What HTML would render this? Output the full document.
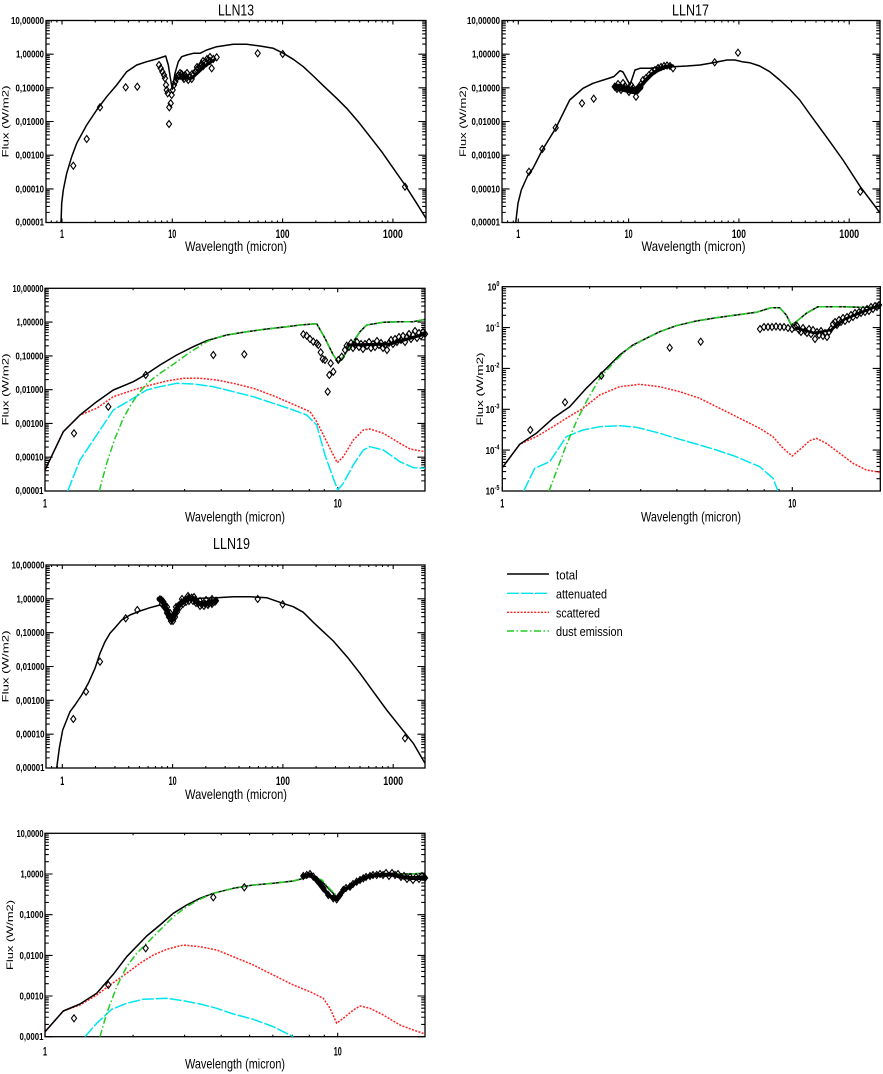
<!DOCTYPE html>
<html><head><meta charset="utf-8"><style>
html,body{margin:0;padding:0;background:#fff;width:883px;height:1074px;overflow:hidden}
svg{display:block}
text{font-family:"Liberation Sans",sans-serif;fill:#000}
</style></head><body>
<svg width="883" height="1074" viewBox="0 0 883 1074" xmlns="http://www.w3.org/2000/svg">
<defs>
<marker id="d" markerWidth="10" markerHeight="10" refX="5" refY="5" markerUnits="userSpaceOnUse" overflow="visible"><path d="M5 1.5 L7.6 5 L5 8.5 L2.4 5Z" fill="none" stroke="#000" stroke-width="1.1"/></marker>
<path id="xb1" d="M0 0v-4M33.2 0v-2M52.6 0v-2M66.4 0v-2M77.1 0v-2M85.8 0v-2M93.2 0v-2M99.6 0v-2M105.2 0v-2"/>
<path id="xt1" d="M0 0v4M33.2 0v2M52.6 0v2M66.4 0v2M77.1 0v2M85.8 0v2M93.2 0v2M99.6 0v2M105.2 0v2"/>
<path id="xb3" d="M0 0v-4M88.1 0v-2M139.6 0v-2M176.2 0v-2M204.6 0v-2M227.8 0v-2M247.4 0v-2M264.3 0v-2M279.3 0v-2M292.7 0v-4"/>
<path id="xt3" d="M0 0v4M88.1 0v2M139.6 0v2M176.2 0v2M204.6 0v2M227.8 0v2M247.4 0v2M264.3 0v2M279.3 0v2M292.7 0v4"/>
<path id="xb4" d="M0 0v-4M87.3 0v-2M138.4 0v-2M174.6 0v-2M202.7 0v-2M225.7 0v-2M245.1 0v-2M261.9 0v-2M276.7 0v-2M290 0v-4"/>
<path id="xt4" d="M0 0v4M87.3 0v2M138.4 0v2M174.6 0v2M202.7 0v2M225.7 0v2M245.1 0v2M261.9 0v2M276.7 0v2M290 0v4"/>
<path id="yl1" d="M0 0h7.6M0-10.13h3.8M0-16.06h3.8M0-20.27h3.8M0-23.53h3.8M0-26.2h3.8M0-28.45h3.8M0-30.4h3.8M0-32.12h3.8"/>
<path id="yr1" d="M0 0h-7.6M0-10.13h-3.8M0-16.06h-3.8M0-20.27h-3.8M0-23.53h-3.8M0-26.2h-3.8M0-28.45h-3.8M0-30.4h-3.8M0-32.12h-3.8"/>
<path id="yl4" d="M0 0h7.6M0-12.28h3.8M0-19.46h3.8M0-24.56h3.8M0-28.52h3.8M0-31.75h3.8M0-34.48h3.8M0-36.84h3.8M0-38.92h3.8"/>
<path id="yr4" d="M0 0h-7.6M0-12.28h-3.8M0-19.46h-3.8M0-24.56h-3.8M0-28.52h-3.8M0-31.75h-3.8M0-34.48h-3.8M0-36.84h-3.8M0-38.92h-3.8"/>
<clipPath id="c1"><rect x="46" y="20.5" width="380" height="202"/></clipPath>
<clipPath id="c2"><rect x="502" y="20.5" width="378" height="202"/></clipPath>
<clipPath id="c3"><rect x="45" y="288.3" width="380" height="202.7"/></clipPath>
<clipPath id="c4"><rect x="502.3" y="286.7" width="378" height="204.3"/></clipPath>
<clipPath id="c5"><rect x="46" y="565" width="379" height="203"/></clipPath>
<clipPath id="c6"><rect x="45" y="833.3" width="380" height="203.4"/></clipPath>
</defs>

<!-- ===== AXES BOXES & TICKS ===== -->
<g fill="none" stroke="#000" stroke-width="1.3">
<rect x="46" y="20.5" width="380" height="202"/>
<rect x="502" y="20.5" width="378" height="202"/>
<rect x="45" y="288.3" width="380" height="202.7"/>
<rect x="502.3" y="286.7" width="378" height="204.3"/>
<rect x="46" y="565" width="379" height="203"/>
<rect x="45" y="833.3" width="380" height="203.4"/>
</g>
<g fill="none" stroke="#000" stroke-width="1.1">
<!-- P1 -->
<use href="#yl1" x="46" y="222.5"/><use href="#yl1" x="46" y="188.9"/><use href="#yl1" x="46" y="155.2"/><use href="#yl1" x="46" y="121.5"/><use href="#yl1" x="46" y="87.8"/><use href="#yl1" x="46" y="54.2"/>
<use href="#yr1" x="426" y="222.5"/><use href="#yr1" x="426" y="188.9"/><use href="#yr1" x="426" y="155.2"/><use href="#yr1" x="426" y="121.5"/><use href="#yr1" x="426" y="87.8"/><use href="#yr1" x="426" y="54.2"/>
<use href="#xb1" x="62" y="222.5"/><use href="#xb1" x="172.3" y="222.5"/><use href="#xb1" x="282.6" y="222.5"/>
<use href="#xt1" x="62" y="20.5"/><use href="#xt1" x="172.3" y="20.5"/><use href="#xt1" x="282.6" y="20.5"/>
<path d="M392.9 222.5v-4M51.3 222.5v-2M56.9 222.5v-2M392.9 20.5v4M51.3 20.5v2M56.9 20.5v2"/>
<!-- P2 -->
<use href="#yl1" x="502" y="222.5"/><use href="#yl1" x="502" y="188.9"/><use href="#yl1" x="502" y="155.2"/><use href="#yl1" x="502" y="121.5"/><use href="#yl1" x="502" y="87.8"/><use href="#yl1" x="502" y="54.2"/>
<use href="#yr1" x="880" y="222.5"/><use href="#yr1" x="880" y="188.9"/><use href="#yr1" x="880" y="155.2"/><use href="#yr1" x="880" y="121.5"/><use href="#yr1" x="880" y="87.8"/><use href="#yr1" x="880" y="54.2"/>
<use href="#xb1" x="518.3" y="222.5"/><use href="#xb1" x="628.6" y="222.5"/><use href="#xb1" x="738.9" y="222.5"/>
<use href="#xt1" x="518.3" y="20.5"/><use href="#xt1" x="628.6" y="20.5"/><use href="#xt1" x="738.9" y="20.5"/>
<path d="M849.2 222.5v-4M507.6 222.5v-2M513.3 222.5v-2M849.2 20.5v4M507.6 20.5v2M513.3 20.5v2"/>
<!-- P3 -->
<use href="#yl1" x="45" y="491"/><use href="#yl1" x="45" y="457.2"/><use href="#yl1" x="45" y="423.4"/><use href="#yl1" x="45" y="389.7"/><use href="#yl1" x="45" y="355.9"/><use href="#yl1" x="45" y="322.1"/>
<use href="#yr1" x="425" y="491"/><use href="#yr1" x="425" y="457.2"/><use href="#yr1" x="425" y="423.4"/><use href="#yr1" x="425" y="389.7"/><use href="#yr1" x="425" y="355.9"/><use href="#yr1" x="425" y="322.1"/>
<use href="#xb3" x="45" y="491"/><use href="#xt3" x="45" y="288.3"/>
<!-- P4 -->
<use href="#yl4" x="502.3" y="491"/><use href="#yl4" x="502.3" y="450.1"/><use href="#yl4" x="502.3" y="409.3"/><use href="#yl4" x="502.3" y="368.4"/><use href="#yl4" x="502.3" y="327.6"/>
<use href="#yr4" x="880.3" y="491"/><use href="#yr4" x="880.3" y="450.1"/><use href="#yr4" x="880.3" y="409.3"/><use href="#yr4" x="880.3" y="368.4"/><use href="#yr4" x="880.3" y="327.6"/>
<use href="#xb4" x="502.3" y="491"/><use href="#xt4" x="502.3" y="286.7"/>
<!-- P5 -->
<use href="#yl1" x="46" y="768"/><use href="#yl1" x="46" y="734.2"/><use href="#yl1" x="46" y="700.3"/><use href="#yl1" x="46" y="666.5"/><use href="#yl1" x="46" y="632.7"/><use href="#yl1" x="46" y="598.8"/>
<use href="#yr1" x="425" y="768"/><use href="#yr1" x="425" y="734.2"/><use href="#yr1" x="425" y="700.3"/><use href="#yr1" x="425" y="666.5"/><use href="#yr1" x="425" y="632.7"/><use href="#yr1" x="425" y="598.8"/>
<use href="#xb1" x="62.3" y="768"/><use href="#xb1" x="172.6" y="768"/><use href="#xb1" x="282.9" y="768"/>
<use href="#xt1" x="62.3" y="565"/><use href="#xt1" x="172.6" y="565"/><use href="#xt1" x="282.9" y="565"/>
<path d="M393.2 768v-4M51.6 768v-2M57.3 768v-2M393.2 565v4M51.6 565v2M57.3 565v2"/>
<!-- P6 -->
<use href="#yl4" x="45" y="1036.7"/><use href="#yl4" x="45" y="996"/><use href="#yl4" x="45" y="955.4"/><use href="#yl4" x="45" y="914.7"/><use href="#yl4" x="45" y="874"/>
<use href="#yr4" x="425" y="1036.7"/><use href="#yr4" x="425" y="996"/><use href="#yr4" x="425" y="955.4"/><use href="#yr4" x="425" y="914.7"/><use href="#yr4" x="425" y="874"/>
<use href="#xb3" x="45" y="1036.7"/><use href="#xt3" x="45" y="833.3"/>
</g>

<!-- ===== CURVES ===== -->
<g fill="none" stroke-width="1.5" stroke-linejoin="round">
<!-- P1 -->
<g clip-path="url(#c1)">
<polyline stroke="#000" points="61,222.7 61.7,203.3 63.3,190 66.7,173.3 71.7,156.7 76.7,143.3 86.7,125 96.7,110 106.7,96.7 116.7,85 126.7,71.7 136.7,65 146.7,61.7 156.7,59 165.7,56 168.3,65 170.7,80 172.3,89.3 175,73.3 178.3,61.7 181.7,56.7 186.7,55 193.3,53.3 200,53.3 206.7,50 216.7,46.7 233.3,44.3 246.7,44.3 260,46 273.3,48.3 283.3,53.3 293.3,59.3 303.3,66.7 313.3,76 325,87.3 336.7,98.3 346.7,108.3 358.3,121.7 370,136.7 381.7,151.7 393.3,168.3 405,185 416.7,203.3 426,218.3"/>
</g>
<!-- P2 -->
<g clip-path="url(#c2)">
<polyline stroke="#000" points="515.7,222.7 518,203.3 521.3,190 528,175 533,168.3 542.3,150 555.7,128.3 569.7,100 583,88.3 593,83.3 609.7,78 614,76.5 620,70.7 623,72 630,85 635,70 640,68.3 650,68.3 660,67 673,66.7 687,66 700,65 713,62.7 727,60 735,60 742,61.7 749.7,62.7 759.7,66 769.7,71.7 779.7,80 789.7,89.3 799.7,100 809.7,114 826.3,136.7 843,160 860.3,186.7 880.3,213.3"/>
</g>
<!-- P3 -->
<g clip-path="url(#c3)">
<polyline stroke="#00e4f0" stroke-dasharray="12 2" points="67.7,491 80,460 96.7,435 113.3,410 133.3,398.3 146.7,390 160,386.7 176.7,383.3 193.3,384 213.3,386.7 233.3,391.7 253.3,396.7 273.3,403.3 293.3,410 306.7,415 316.7,425 325,455 333.3,478.3 337.7,490 343.3,483.3 353.3,465 363.3,450 370,446.7 383.3,450 400,461.7 413.3,467.7 425,468.3"/>
<polyline stroke="#ff2020" stroke-dasharray="2 1.4" points="45,470 63.3,431.7 80,415 96.7,408.3 113.3,396.7 133.3,390 146.7,386 166.7,381 183.3,378.3 200,378.3 216.7,380 233.3,383.3 253.3,388.3 273.3,395.7 293.3,404.3 310,411.7 316.7,421.7 325,438.3 333.3,455 337.3,462.7 343.3,456.7 353.3,440 363.3,430 370,429 383.3,433.3 400,443.3 410,449 425,451.7"/>
<polyline stroke="#000" points="45,470 63.3,431.7 80,415 96.7,401.7 113.3,390 133.3,381.7 145,375 160,365 176.7,355 193.3,346.7 206.7,340.7 226.7,335 246.7,331.7 266.7,329 286.7,326.7 300,325 316.7,323.7 325,338.3 333.3,355 338.3,362.3 343.3,356.7 353.3,341.7 360,331.7 366.7,325 383.3,322.3 400,321.7 413.3,321.7 425,319.3"/>
<polyline stroke="#22cc22" stroke-dasharray="7 2.5 1.5 2.5" points="99.3,491 106.7,463.3 115,438.3 123.3,418.3 131.7,403.3 140,391.7 148.3,382.3 160,373.3 173.3,364.3 190,352.3 206.7,341.7 220,336.7 226.7,335 246.7,331.7 266.7,329 286.7,326.7 300,325 316.7,323.7 325,338.3 333.3,355 338.3,362.3 343.3,356.7 353.3,341.7 360,331.7 366.7,325 383.3,322.3 400,321.7 413.3,321.7 425,319.3"/>
</g>
<!-- P4 -->
<g clip-path="url(#c4)">
<polyline stroke="#00e4f0" stroke-dasharray="12 2" points="523.7,491 534.7,468.3 549.7,461.7 566.3,436.7 583,430 599.7,426.7 619.7,425.7 636.3,427.3 656.3,432.3 676.3,438.3 696.3,444 716.3,450 736.3,456.7 759.7,466.7 773,478.3 778,491"/>
<polyline stroke="#ff2020" stroke-dasharray="2 1.4" points="502.3,467.7 519.7,444.3 536.3,436.7 553,426.7 566.3,418.3 583,408.3 599.7,395 619.7,386.7 639.7,384.3 659.7,386.7 679.7,391.7 699.7,398.3 719.7,408.3 739.7,418.3 759.7,428.3 773,436.7 783,448.3 792.3,456 801.3,448.3 809.7,440.7 816.3,438.3 826.3,443.3 839.7,453.3 853,463.3 866.3,470 880.3,472.3"/>
<polyline stroke="#000" points="502.3,467.7 519.7,444.3 536.3,433.3 553,418.3 569.7,406.7 586.3,388.3 603,371.7 619.7,355 633,345 646.3,338.3 659.7,331.7 676.3,325.7 696.3,321 716.3,317.7 736.3,315 756.3,312.3 771.3,307.7 779.7,307.7 786.3,315 791.3,325 796.3,321.7 806.3,313.3 818,306.7 829.7,306.7 843,306.7 859.7,307.3 880.3,307.3"/>
<polyline stroke="#22cc22" stroke-dasharray="7 2.5 1.5 2.5" points="549,491 556.3,471.7 566.3,445 576.3,421.7 586.3,401.7 599.7,378.3 613,363.3 626.3,350 639.7,341.7 649.7,336.7 659.7,331.7 676.3,325.7 696.3,321 716.3,317.7 736.3,315 756.3,312.3 771.3,307.7 779.7,307.7 786.3,315 791.3,325 796.3,321.7 806.3,313.3 818,306.7 829.7,306.7 843,306.7 859.7,307.3 880.3,307.3"/>
</g>
<!-- P5 -->
<g clip-path="url(#c5)">
<polyline stroke="#000" points="56.7,768 59.3,748.3 62.7,730 66.7,720 70,711.7 75,705 81.7,695 88.3,683.3 95,668.3 100,653.3 105,641.7 110,633.3 115,627.7 121.7,620 130,615 140,611 150,607.7 160,605 163.3,607.7 166.7,614.3 170,618.3 172.3,620 175,614.3 180,606.7 186.7,601.7 193.3,599 200,598.3 216.7,597.7 233.3,596.7 250,596.7 266.7,597.7 282.7,603.3 293.3,606.7 303.3,612.3 313.3,622.3 323.3,631.7 333.3,641 348.3,658.3 360,673.3 373.3,691.7 386.7,710 400,726.7 413.3,743.3 425,763.3"/>
</g>
<!-- P6 -->
<g clip-path="url(#c6)">
<polyline stroke="#00e4f0" stroke-dasharray="12 2" points="85,1036.7 96.7,1023.3 111.7,1009.3 126.7,1003.3 143.3,999.3 166.7,998.3 183.3,1000.7 200,1004 216.7,1008.3 233.3,1014 253.3,1019.3 273.3,1026.7 293.3,1036.7"/>
<polyline stroke="#ff2020" stroke-dasharray="2 1.4" points="45,1031.7 63.3,1011 80,1005 96.7,995 110,985 126.7,973.3 140,963.3 153.3,955 166.7,949.3 183.3,945 200,946.7 216.7,950 233.3,956.7 253.3,965 273.3,975 293.3,985 310,991.7 323.3,998.3 330,1008.3 336.7,1023.3 343.3,1018.3 353.3,1010 360,1006 370,1008.3 383.3,1015 400,1025 413.3,1030 425,1034"/>
<polyline stroke="#000" points="45,1031.7 63.3,1011 80,1004 96.7,993.3 113.3,974.3 126.7,956.7 146.7,936 160,925 173.3,913.3 186.7,905 200,898.3 213.3,893.3 233.3,888.3 253.3,885 273.3,883.3 293.3,881 310,876.7 320,879.3 328.3,888.3 333.3,893.3 336.7,897.3 343.3,891.7 353.3,885 363.3,878.3 376.7,875 393.3,874 410,874 425,873.3"/>
<polyline stroke="#22cc22" stroke-dasharray="7 2.5 1.5 2.5" points="100,1036.7 106.7,1013.3 116.7,986.7 126.7,966.7 136.7,953.3 150,940 163.3,926.7 173.3,916.7 186.7,906.7 200,899.3 213.3,893.3 233.3,888.3 253.3,885 273.3,883.3 293.3,881 311,876 322,880 330,889 335,894 338,897 344,892 354,885 364,878.3 377,875 393.3,874 410,874 425,873.3"/>
</g>
</g>

<!-- ===== DATA (diamonds & dense bands) ===== -->
<g fill="none" stroke="#000" stroke-linejoin="round" stroke-linecap="round">
<path stroke-width="3" d="M176,78 L192,78 L205,66 L214,60"/>
<path stroke-width="7" d="M616,87 L622,88 L630,90 L636,91 L640,87"/>
<path stroke-width="4" d="M640,87 L646,80 L652,74 L658,70 L665,67 L671,66"/>
<path stroke-width="3" d="M348,345 L390,344 L425,334"/>
<path stroke-width="2.5" d="M796,328 L814,333 L831,330 L845,319 L865,311 L880,305"/>
<path stroke-width="5" d="M159,599 L163,602 L166.7,610 L170,617 L172.5,619.5 L175,614 L178.5,606 L182,602 L186,599.5 L190,598 L194,599.5 L198,603 L202,604 L206,603.5 L210,602.5 L214,601.5 L216,601"/>
<path stroke-width="4" d="M303,876 L310,874.5 L316.7,880 L323.3,888.3 L328.3,895 L333.3,898.3 L336.7,899.3 L340,895 L343.3,890 L350,886.7 L356.7,881.7 L363.3,878.3 L370,876 L376.7,875 L393.3,874.5 L400,876.7 L410,878 L425,878"/>
</g>
<g fill="none" stroke="none" marker-start="url(#d)" marker-mid="url(#d)" marker-end="url(#d)">
<polyline points="73.3,165.7 86.7,139 100,107.3 125.7,87.3 137.3,86.7 169,124 257.7,53.3 282.7,54 405,186.7"/>
<polyline points="159,65 160.7,68.3 162.3,71.7 164,75 165,78.3 166,85 166.7,90 167.7,93.3 169.3,107.3 170.7,103.3 171.7,95 172.7,90 174,85 175.3,81.7 176.7,78.3 178.3,75 180,76 181.7,74 183.3,77 185,75 186.7,78 188.3,80 190,77 191.7,79 193.3,75 195,72 196.7,70 198.3,68 200,66 201.7,64 203.3,66 205,62 206.7,63 208.3,60 210,61 211.7,68.3 213.3,59 216.7,57.3 180,73 184,79 187,73 192,74 197,67 203,61 207,59 210,57"/>
<polyline points="529,171.7 542.3,149 555.7,127.7 582,103.3 593.7,98.7 673,68.3 714.7,62.3 738,52.7 860.3,191.7"/>
<polyline points="614.7,86.7 618,84 621,90 625,86 629,92 633,88 636,96.7 638,90 641,84 643,80 646,78 649,75 652,72 655,70 658,68 661,67 664,66 667,65.5 670,66 617,89 623,83 627,89 631,85 635,91 639,87"/>
<polyline points="74,433.3 108.3,406.7 145.7,375 213.3,355 244.3,354.3"/>
<polyline points="303.3,334.3 306.7,335.7 310,339 313.3,341.7 316.7,343.3 318.3,345 320.7,352.3 322.7,359 325,360 327.7,391.7 329.3,375 330.7,363.3 333.3,371.7 338.3,360 341.7,356.7 345,350 346.7,345.7 349,347 351,343 353,348 355,345 357,342 359,347 361,344 363,349 365,344 367,346 369,342 371,348 373,344 375,347 377,341 379,345 381,343 383,348 385,345 387,350 389,343 391,340 393,344 395,339 397,342 399,337 401,340 403,336 405,342 407,337 409,334 411,339 413,335 415,331 417,338 419,333 421,336 423,332 425,334"/>
<polyline points="530.3,430 565,402.3 601.3,375.7 669.7,347.7 700.7,341.7"/>
<polyline points="760,329 764,327 768,327 772,327 776,326.5 780,327 784,327 788,328 792,329 795,327 797,326 799,330 801,332 803,328 805,331 807,333 809,329 811,334 813,330 815,339 817,332 819,335 821,331 823,336 825,333 827,337 829,332 831,329 833,324 835,322 837,325 839,320 841,322 843,318 845,321 847,317 849,319 851,315 853,317 855,313 857,315 859,312 861,313 863,310 865,312 867,309 869,311 871,307 873,309 875,306 877,307 879,305"/>
<polyline points="73.3,719 86,691.7 100,661.7 125.7,618.3 137.3,610 216,600.7 257.7,599 282.7,604.3 405,738.3"/>
<polyline points="160,599.3 161.5,600 163.3,601.7 165,605 166.7,610 168.3,614.3 170,617.7 171.3,619 172.7,617.7 174,614.3 176,610 178.3,605.7 181.7,602.3 185,600 188.3,598.3 191.7,597.7 195,600 198.3,603.3 201.7,604.3 205,603.7 208.3,603 211.7,602.3 215,601.7 162,604 165,608 167,613 169,617 171,621 173,621 175,617 177,612 180,607 183,604 186,602 189,601 193,601 196,603 200,606 204,606 208,605 212,604 167,607 170,613 176,607 182,599 188,596 194,597 200,601 206,600 212,599"/>
<polyline points="74,1018.3 108.3,985 145.7,948.3 213.3,897.3 244.3,887.3"/>
<polyline points="303.3,876 306.7,875 310,874 313.3,876.7 316.7,880 320,884 323.3,888.3 328.3,895 333.3,898.3 336.7,899.3 340,895 343.3,890 346,888 350,886.7 353,884 356.7,881.7 360,880 363.3,878.3 366,877 370,876 373,875 376.7,875 380,874 383,875 386,873 389,876 392,873 395,875 398,874 401,877 404,876 407,879 410,877 413,880 416,877 419,879 422,876 425,878"/>
</g>

<!-- ===== LEGEND ===== -->
<g fill="none" stroke-width="1.4">
<line x1="507" y1="574" x2="549" y2="574" stroke="#000"/>
<line x1="507" y1="593.3" x2="549" y2="593.3" stroke="#00e4f0" stroke-dasharray="12 2"/>
<line x1="507" y1="612.3" x2="549" y2="612.3" stroke="#ff2020" stroke-dasharray="2 1.4"/>
<line x1="507" y1="631" x2="549" y2="631" stroke="#22cc22" stroke-dasharray="7 2.5 1.5 2.5"/>
</g>
<text x="556" y="579.5" font-size="13" textLength="21.7" lengthAdjust="spacingAndGlyphs">total</text>
<text x="556" y="598.5" font-size="13" textLength="51" lengthAdjust="spacingAndGlyphs">attenuated</text>
<text x="556" y="617.5" font-size="13" textLength="44" lengthAdjust="spacingAndGlyphs">scattered</text>
<text x="556" y="636" font-size="13" textLength="66.7" lengthAdjust="spacingAndGlyphs">dust emission</text>

<!-- ===== TITLES ===== -->
<text x="236" y="15.5" font-size="16" text-anchor="middle" textLength="36" lengthAdjust="spacingAndGlyphs">LLN13</text>
<text x="690.5" y="15.5" font-size="16" text-anchor="middle" textLength="37" lengthAdjust="spacingAndGlyphs">LLN17</text>
<text x="231.5" y="549" font-size="16" text-anchor="middle" textLength="37" lengthAdjust="spacingAndGlyphs">LLN19</text>

<!-- ===== X AXIS TITLES ===== -->
<g font-size="14" text-anchor="middle">
<text x="236" y="251" textLength="102" lengthAdjust="spacingAndGlyphs">Wavelength (micron)</text>
<text x="693.5" y="251" textLength="104" lengthAdjust="spacingAndGlyphs">Wavelength (micron)</text>
<text x="235" y="521.5" textLength="100" lengthAdjust="spacingAndGlyphs">Wavelength (micron)</text>
<text x="691" y="521.5" textLength="100" lengthAdjust="spacingAndGlyphs">Wavelength (micron)</text>
<text x="236" y="799" textLength="102" lengthAdjust="spacingAndGlyphs">Wavelength (micron)</text>
<text x="235" y="1068.5" textLength="100" lengthAdjust="spacingAndGlyphs">Wavelength (micron)</text>
</g>

<!-- ===== Y AXIS TITLES ===== -->
<g font-size="9" text-anchor="middle">
<text transform="translate(8.5,121.5) rotate(-90)" textLength="72" lengthAdjust="spacingAndGlyphs">Flux (W/m2)</text>
<text transform="translate(466,121.5) rotate(-90)" textLength="71" lengthAdjust="spacingAndGlyphs">Flux (W/m2)</text>
<text transform="translate(8.5,389.5) rotate(-90)" textLength="72" lengthAdjust="spacingAndGlyphs">Flux (W/m2)</text>
<text transform="translate(483,389) rotate(-90)" textLength="73" lengthAdjust="spacingAndGlyphs">Flux (W/m2)</text>
<text transform="translate(8.5,666.5) rotate(-90)" textLength="72" lengthAdjust="spacingAndGlyphs">Flux (W/m2)</text>
<text transform="translate(13,935) rotate(-90)" textLength="70" lengthAdjust="spacingAndGlyphs">Flux (W/m2)</text>
</g>

<!-- ===== X TICK LABELS ===== -->
<g font-size="12" font-weight="bold" text-anchor="middle">
<text x="62" y="238" textLength="4" lengthAdjust="spacingAndGlyphs">1</text>
<text x="172.3" y="238" textLength="8" lengthAdjust="spacingAndGlyphs">10</text>
<text x="282.6" y="238" textLength="14" lengthAdjust="spacingAndGlyphs">100</text>
<text x="392.9" y="238" textLength="20" lengthAdjust="spacingAndGlyphs">1000</text>
<text x="518.3" y="238" textLength="4" lengthAdjust="spacingAndGlyphs">1</text>
<text x="628.6" y="238" textLength="8" lengthAdjust="spacingAndGlyphs">10</text>
<text x="738.9" y="238" textLength="14" lengthAdjust="spacingAndGlyphs">100</text>
<text x="849.2" y="238" textLength="20" lengthAdjust="spacingAndGlyphs">1000</text>
<text x="45" y="507.5" textLength="4" lengthAdjust="spacingAndGlyphs">1</text>
<text x="337.7" y="507.5" textLength="8" lengthAdjust="spacingAndGlyphs">10</text>
<text x="502.3" y="507.5" textLength="4" lengthAdjust="spacingAndGlyphs">1</text>
<text x="792.3" y="507.5" textLength="8" lengthAdjust="spacingAndGlyphs">10</text>
<text x="62.3" y="785" textLength="4" lengthAdjust="spacingAndGlyphs">1</text>
<text x="172.6" y="785" textLength="8" lengthAdjust="spacingAndGlyphs">10</text>
<text x="282.9" y="785" textLength="14" lengthAdjust="spacingAndGlyphs">100</text>
<text x="393.2" y="785" textLength="20" lengthAdjust="spacingAndGlyphs">1000</text>
<text x="45" y="1055.5" textLength="4" lengthAdjust="spacingAndGlyphs">1</text>
<text x="337.7" y="1055.5" textLength="8" lengthAdjust="spacingAndGlyphs">10</text>
</g>

<!-- ===== Y TICK LABELS ===== -->
<g font-size="10" font-weight="bold" text-anchor="end">
<!-- P1 -->
<text x="44" y="24" textLength="33" lengthAdjust="spacingAndGlyphs">10,00000</text>
<text x="44" y="57.7" textLength="28" lengthAdjust="spacingAndGlyphs">1,00000</text>
<text x="44" y="91.3" textLength="28.5" lengthAdjust="spacingAndGlyphs">0,10000</text>
<text x="44" y="125" textLength="28.5" lengthAdjust="spacingAndGlyphs">0,01000</text>
<text x="44" y="158.7" textLength="28.5" lengthAdjust="spacingAndGlyphs">0,00100</text>
<text x="44" y="192.4" textLength="28.5" lengthAdjust="spacingAndGlyphs">0,00010</text>
<text x="44" y="225.5" textLength="28.5" lengthAdjust="spacingAndGlyphs">0,00001</text>
<!-- P2 -->
<text x="500" y="24" textLength="33" lengthAdjust="spacingAndGlyphs">10,00000</text>
<text x="500" y="57.7" textLength="28" lengthAdjust="spacingAndGlyphs">1,00000</text>
<text x="500" y="91.3" textLength="28.5" lengthAdjust="spacingAndGlyphs">0,10000</text>
<text x="500" y="125" textLength="28.5" lengthAdjust="spacingAndGlyphs">0,01000</text>
<text x="500" y="158.7" textLength="28.5" lengthAdjust="spacingAndGlyphs">0,00100</text>
<text x="500" y="192.4" textLength="28.5" lengthAdjust="spacingAndGlyphs">0,00010</text>
<text x="500" y="225.5" textLength="28.5" lengthAdjust="spacingAndGlyphs">0,00001</text>
<!-- P3 -->
<text x="43.5" y="291.8" textLength="31" lengthAdjust="spacingAndGlyphs">10,00000</text>
<text x="43.5" y="325.6" textLength="27" lengthAdjust="spacingAndGlyphs">1,00000</text>
<text x="43.5" y="359.4" textLength="28" lengthAdjust="spacingAndGlyphs">0,10000</text>
<text x="43.5" y="393.2" textLength="28" lengthAdjust="spacingAndGlyphs">0,01000</text>
<text x="43.5" y="426.9" textLength="28" lengthAdjust="spacingAndGlyphs">0,00100</text>
<text x="43.5" y="460.7" textLength="28" lengthAdjust="spacingAndGlyphs">0,00010</text>
<text x="43.5" y="494" textLength="28" lengthAdjust="spacingAndGlyphs">0,00001</text>
<!-- P5 -->
<text x="44.5" y="568.5" textLength="33" lengthAdjust="spacingAndGlyphs">10,00000</text>
<text x="44.5" y="602.3" textLength="28" lengthAdjust="spacingAndGlyphs">1,00000</text>
<text x="44.5" y="636.2" textLength="28.5" lengthAdjust="spacingAndGlyphs">0,10000</text>
<text x="44.5" y="670" textLength="28.5" lengthAdjust="spacingAndGlyphs">0,01000</text>
<text x="44.5" y="703.8" textLength="28.5" lengthAdjust="spacingAndGlyphs">0,00100</text>
<text x="44.5" y="737.7" textLength="28.5" lengthAdjust="spacingAndGlyphs">0,00010</text>
<text x="44.5" y="771" textLength="28.5" lengthAdjust="spacingAndGlyphs">0,00001</text>
<!-- P6 -->
<text x="43.5" y="836.8" textLength="27" lengthAdjust="spacingAndGlyphs">10,0000</text>
<text x="43.5" y="877.5" textLength="23" lengthAdjust="spacingAndGlyphs">1,0000</text>
<text x="43.5" y="918.2" textLength="24" lengthAdjust="spacingAndGlyphs">0,1000</text>
<text x="43.5" y="958.9" textLength="24" lengthAdjust="spacingAndGlyphs">0,0100</text>
<text x="43.5" y="999.5" textLength="24" lengthAdjust="spacingAndGlyphs">0,0010</text>
<text x="43.5" y="1040" textLength="24" lengthAdjust="spacingAndGlyphs">0,0001</text>
</g>
<!-- P4 power labels -->
<g font-size="10" font-weight="bold" text-anchor="end">
<g transform="translate(499.5,290.5) scale(0.8,1)"><text>10<tspan dy="-4.5" font-size="7">0</tspan></text></g>
<g transform="translate(499.5,331.3) scale(0.8,1)"><text>10<tspan dy="-4.5" font-size="7">-1</tspan></text></g>
<g transform="translate(499.5,372) scale(0.8,1)"><text>10<tspan dy="-4.5" font-size="7">-2</tspan></text></g>
<g transform="translate(499.5,413) scale(0.8,1)"><text>10<tspan dy="-4.5" font-size="7">-3</tspan></text></g>
<g transform="translate(499.5,453.8) scale(0.8,1)"><text>10<tspan dy="-4.5" font-size="7">-4</tspan></text></g>
<g transform="translate(499.5,494.5) scale(0.8,1)"><text>10<tspan dy="-4.5" font-size="7">-5</tspan></text></g>
</g>
</svg>
</body></html>
